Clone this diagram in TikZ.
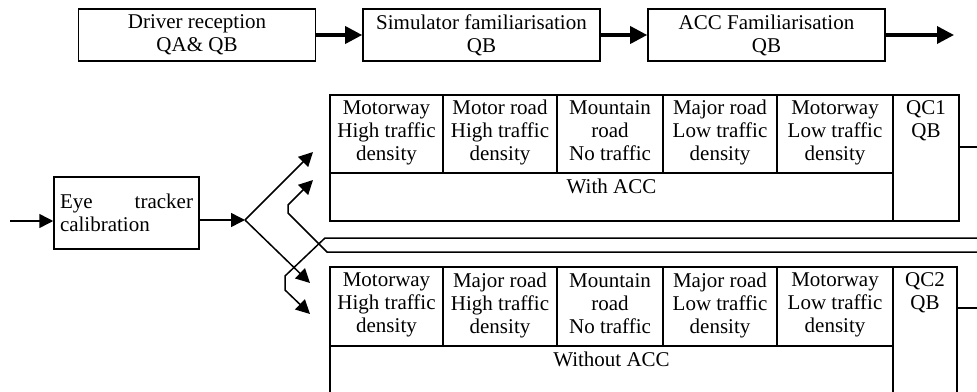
\documentclass[tikz,border=0pt]{standalone}
\usepackage{fontspec}
\setmainfont{Liberation Serif}
\usetikzlibrary{arrows.meta}

\tikzset{
  stage/.style={draw, line width=1.6pt, minimum width=237pt, minimum height=52pt, inner sep=0pt, align=center},
  cell/.style={draw, line width=1.5pt, anchor=north west, outer sep=0pt, minimum height=78pt, inner sep=0pt,
    align=center, execute at begin node=\strut, execute at end node=\strut},
  bigarrow/.style={line width=3.5pt, -{Triangle[length=17pt,width=17pt]}},
  thinarrow/.style={line width=1.5pt, -{Triangle[length=14pt,width=14pt]}},
  wire/.style={line width=1.5pt},
}

\begin{document}
\begin{tikzpicture}[x=1pt, y=-1pt, font=\fontsize{21}{23}\selectfont]
  \clip (0,0) rectangle (977,391);

  % Top stages
  \node[stage] (drv) at (197,35) {Driver reception\\QA\& QB};
  \node[stage] (sim) at (481.5,35) {Simulator familiarisation\\QB};
  \node[stage] (accf) at (766.5,35) {ACC Familiarisation\\QB};
  \coordinate (next) at (954,35);

  \draw[bigarrow] (drv) -- (sim);
  \draw[bigarrow] (sim) -- (accf);
  \draw[bigarrow] (accf) -- (next);

  % Calibration and split
  \node[draw, line width=1.5pt, text width=133pt, minimum height=72pt, inner xsep=6pt, align=left]
    (eye) at (126.5,213) {Eye\hspace{0pt plus 1filll}tracker\\calibration};
  \coordinate (in) at (10,221);
  \coordinate (split) at (245,220);
  \coordinate (up) at (313,152);
  \coordinate (down) at (310,283);

  \draw[thinarrow] (in) -- (in -| eye.west);
  \draw[thinarrow] (eye.east |- split) -- (split);
  \draw[thinarrow] (split) -- (up);
  \draw[thinarrow] (split) -- (down);

  % With ACC
  \node[cell, minimum width=113pt] (a1) at (330,95) {Motorway\\High traffic\\density};
  \node[cell, minimum width=114pt] (a2) at (a1.north east) {Motor road\\High traffic\\density};
  \node[cell, minimum width=106pt] (a3) at (a2.north east) {Mountain\\road\\No traffic};
  \node[cell, minimum width=114pt] (a4) at (a3.north east) {Major road\\Low traffic\\density};
  \node[cell, minimum width=116pt] (a5) at (a4.north east) {Motorway\\Low traffic\\density};
  \node[cell, minimum width=563pt, minimum height=48pt,
    label={[anchor=north, inner sep=6pt]north:With ACC}] (acc1) at (a1.south west) {};
  \node[cell, minimum width=66pt, minimum height=126pt,
    label={[anchor=north, align=center, inner sep=5pt]north:QC1\\QB}] (qc1) at (a5.north east) {};

  % Without ACC
  \node[cell, minimum width=113pt, minimum height=79pt] (b1) at (330,267) {Motorway\\High traffic\\density};
  \node[cell, minimum width=114pt, minimum height=79pt] (b2) at (b1.north east) {Major road\\High traffic\\density};
  \node[cell, minimum width=106pt, minimum height=79pt] (b3) at (b2.north east) {Mountain\\road\\No traffic};
  \node[cell, minimum width=114pt, minimum height=79pt] (b4) at (b3.north east) {Major road\\Low traffic\\density};
  \node[cell, minimum width=116pt, minimum height=79pt] (b5) at (b4.north east) {Motorway\\Low traffic\\density};
  \node[cell, minimum width=563pt, minimum height=48pt,
    label={[anchor=north, inner sep=6pt]north:Without ACC}] (acc2) at (b1.south west) {};
  \node[cell, minimum width=64pt, minimum height=127pt,
    label={[anchor=north, align=center, inner sep=5pt]north:QC2\\QB}] (qc2) at (b5.north east) {};

  % Returns
  \coordinate (out1) at (977,147);
  \coordinate (out2) at (977,308);
  \coordinate (back1) at (977,238);
  \coordinate (back2) at (977,252);
  \coordinate (toa) at (313,180);
  \coordinate (tob) at (310,314);

  \draw[wire] (out1 -| qc1.east) -- (out1);
  \draw[wire] (out2 -| qc2.east) -- (out2);
  \draw[thinarrow] (back2) -- (327,252) -- (288,213) -- (288,205) -- (toa);
  \draw[thinarrow] (back1) -- (325,238) -- (285,276) -- (285,290) -- (tob);
\end{tikzpicture}
\end{document}
